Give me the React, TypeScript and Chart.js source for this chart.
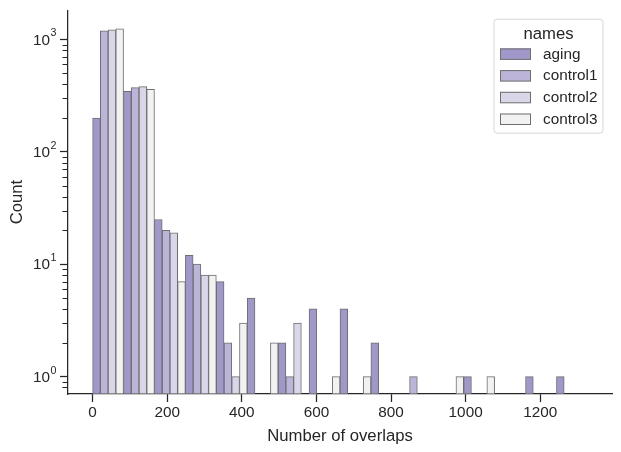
import React, { useEffect, useRef } from 'react';
import { Chart, registerables } from 'chart.js';

Chart.register(...registerables);

// Histogram bins (Number of overlaps)
const BIN_START = 0;
const BIN_WIDTH = 82.9;
const BIN_COUNT = 16;

const names = ['aging', 'control1', 'control2', 'control3'];
const aging = [200, 345, 25, 12, 7, 5, 2, 4, 4, 2, 0, 0, 1, 0, 1, 1];
const control1 = [1190, 372, 20, 10, 2, 0, 1, 0, 0, 0, 1, 0, 0, 0, 0, 0];
const control2 = [1215, 380, 19, 8, 1, 0, 3, 0, 0, 0, 0, 0, 0, 0, 0, 0];
const control3 = [1240, 360, 7, 8, 3, 2, 0, 1, 1, 0, 0, 1, 1, 0, 0, 0];
const seriesValues = [aging, control1, control2, control3];

const xTicks = [0, 200, 400, 600, 800, 1000, 1200];
const yMajorTicks = [1, 10, 100, 1000];
const yMinorTicks = [0.8, 0.9, 2, 3, 4, 5, 6, 7, 8, 9, 20, 30, 40, 50, 60, 70, 80, 90, 200, 300, 400, 500, 600, 700, 800, 900];

const colors = ['#a197c9', '#bcb5d9', '#dad6e9', '#f2f2f2'];
const EDGE = '#6e6e6e';
const INK = '#262626';
const FONT = "'Liberation Sans', Arial, sans-serif";

const yAxisPlugin = {
  id: 'yAxisDecor',
  afterDraw(chart: any) {
    const ctx = chart.ctx;
    const y = chart.scales.y;
    const left = chart.chartArea.left;
    ctx.save();
    ctx.strokeStyle = INK;
    ctx.lineWidth = 1;
    yMinorTicks.forEach((v) => {
      const py = Math.round(y.getPixelForValue(v)) + 0.5;
      ctx.beginPath();
      ctx.moveTo(left - 5.5, py);
      ctx.lineTo(left, py);
      ctx.stroke();
    });
    ctx.fillStyle = INK;
    yMajorTicks.forEach((v) => {
      const py = y.getPixelForValue(v);
      const exp = Math.round(Math.log10(v));
      ctx.font = `15.3px ${FONT}`;
      ctx.textAlign = 'right';
      ctx.textBaseline = 'middle';
      ctx.fillText('10', left - 18, py + 1);
      ctx.font = `10.7px ${FONT}`;
      ctx.textAlign = 'left';
      ctx.fillText(String(exp), left - 17.5, py - 6);
    });
    ctx.restore();
  },
};

const legendPlugin = {
  id: 'boxLegend',
  afterDraw(chart: any) {
    const ctx = chart.ctx;
    const area = chart.chartArea;
    const right = area.right - 9;
    const top = area.top + 9;
    const w = 109;
    const h = 114;
    const left = right - w;
    ctx.save();
    const r = 3;
    ctx.beginPath();
    ctx.moveTo(left + r, top);
    ctx.lineTo(right - r, top);
    ctx.arcTo(right, top, right, top + r, r);
    ctx.lineTo(right, top + h - r);
    ctx.arcTo(right, top + h, right - r, top + h, r);
    ctx.lineTo(left + r, top + h);
    ctx.arcTo(left, top + h, left, top + h - r, r);
    ctx.lineTo(left, top + r);
    ctx.arcTo(left, top, left + r, top, r);
    ctx.closePath();
    ctx.fillStyle = 'rgba(255,255,255,0.8)';
    ctx.fill();
    ctx.strokeStyle = '#d6d6d6';
    ctx.lineWidth = 1;
    ctx.stroke();
    ctx.fillStyle = INK;
    ctx.font = `16.7px ${FONT}`;
    ctx.textAlign = 'center';
    ctx.textBaseline = 'alphabetic';
    ctx.fillText('names', left + w / 2, top + 19.5);
    chart.data.datasets.forEach((ds: any, i: number) => {
      const cy = top + 34.7 + i * 21.7;
      ctx.fillStyle = ds.backgroundColor;
      ctx.fillRect(left + 6, cy - 5.5, 31, 11);
      ctx.strokeStyle = EDGE;
      ctx.lineWidth = 1;
      ctx.strokeRect(left + 6.5, cy - 5, 30, 10.5);
      ctx.fillStyle = INK;
      ctx.font = `15.3px ${FONT}`;
      ctx.textAlign = 'left';
      ctx.textBaseline = 'middle';
      ctx.fillText(ds.label, left + 49, cy + 0.5);
    });
    ctx.restore();
  },
};

export default function App() {
  const ref = useRef<HTMLCanvasElement | null>(null);
  useEffect(() => {
    if (!ref.current) return;
    const datasets = names.map((name, k) => ({
      label: name,
      data: seriesValues[k].map((v, i) => ({
        x: BIN_START + BIN_WIDTH * i + (BIN_WIDTH * (k + 0.5)) / names.length,
        y: v > 0 ? v : null,
      })),
      backgroundColor: colors[k],
      borderColor: EDGE,
      borderWidth: 1,
      borderSkipped: false,
      grouped: false,
      barPercentage: 1,
      categoryPercentage: 1,
    }));
    const chart = new Chart(ref.current, {
      type: 'bar',
      data: { datasets },
      options: {
        animation: false,
        responsive: true,
        maintainAspectRatio: false,
        layout: { padding: { top: 8, right: 9, left: 0, bottom: 0 } },
        plugins: { legend: { display: false }, tooltip: { enabled: false } },
        scales: {
          x: {
            type: 'linear',
            offset: false,
            min: -66,
            max: BIN_START + BIN_WIDTH * BIN_COUNT + 66,
            afterBuildTicks: (s: any) => {
              s.ticks = xTicks.map((v) => ({ value: v }));
            },
            afterFit: (s: any) => {
              s.height = 58;
            },
            grid: { offset: false, drawOnChartArea: false, drawTicks: true, tickLength: 8, tickColor: INK, tickWidth: 1.25 },
            border: { color: INK, width: 1.25 },
            ticks: {
              color: INK,
              font: { family: FONT, size: 15.3, lineHeight: 1 },
              padding: 3,
              maxRotation: 0,
              autoSkip: false,
              callback: (v: any) => String(v),
            },
            title: {
              display: true,
              text: 'Number of overlaps',
              color: INK,
              font: { family: FONT, size: 16.7, lineHeight: 1.2 },
              padding: { top: 0, bottom: 6 },
            },
          },
          y: {
            type: 'logarithmic',
            min: 0.708,
            max: 1820,
            afterBuildTicks: (s: any) => {
              s.ticks = [...yMinorTicks, ...yMajorTicks].sort((a, b) => a - b).map((v) => ({ value: v }));
            },
            afterFit: (s: any) => {
              s.width = 68;
            },
            grid: {
              drawOnChartArea: false,
              drawTicks: true,
              tickLength: 8,
              tickWidth: 1.25,
              tickColor: (c: any) => (c.tick && yMajorTicks.includes(c.tick.value) ? INK : 'rgba(0,0,0,0)'),
            },
            border: { color: INK, width: 1.25 },
            ticks: { callback: () => '', autoSkip: false },
            title: {
              display: true,
              text: 'Count',
              color: INK,
              font: { family: FONT, size: 16.7, lineHeight: 1.2 },
              padding: { top: 7, bottom: 0 },
            },
          },
        },
      } as any,
      plugins: [yAxisPlugin, legendPlugin],
    });
    return () => chart.destroy();
  }, []);
  return (
    <div style={{ position: 'absolute', left: 0, top: 0, width: 621, height: 452, background: '#fff' }}>
      <canvas ref={ref} />
    </div>
  );
}
